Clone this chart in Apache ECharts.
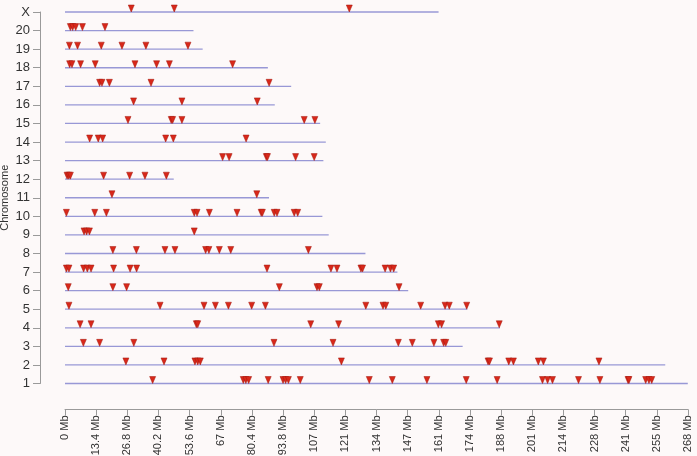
<!DOCTYPE html>
<html>
<head>
<meta charset="utf-8">
<script src="https://cdn.jsdelivr.net/npm/echarts@6/dist/echarts.min.js"></script>
<style>
html,body{margin:0;padding:0;background:#fdf9f9;}
#chart{width:697px;height:456px;}
</style>
</head>
<body>
<div id="chart"></div>
<script>
// Chromosome categories (bottom to top)
const chromosomes = ['1','2','3','4','5','6','7','8','9','10','11','12','13','14','15','16','17','18','19','20','X'];
// Chromosome lengths in Mb
const chromLengths = [267.91, 258.21, 171.06, 187.13, 173.10, 147.64, 143.00, 129.24, 113.44, 110.72, 87.76, 46.78, 111.15, 112.19, 109.76, 90.24, 97.30, 87.27, 59.22, 55.27, 160.70];
// X tick labels
const xTickLabels = ['0 Mb','13.4 Mb','26.8 Mb','40.2 Mb','53.6 Mb','67 Mb','80.4 Mb','93.8 Mb','107 Mb','121 Mb','134 Mb','147 Mb','161 Mb','174 Mb','188 Mb','201 Mb','214 Mb','228 Mb','241 Mb','255 Mb','268 Mb'];
// Marker positions (Mb) per chromosome
const chr1 = [37.7, 76.7, 77.8, 79.0, 87.4, 93.8, 94.9, 96.1, 101.2, 130.9, 140.8, 155.7, 172.6, 185.9, 205.4, 207.6, 209.7, 220.9, 230.1, 242.2, 242.6, 249.8, 251.2, 252.4];
const chr2 = [26.2, 42.6, 55.9, 57.1, 58.2, 118.9, 182.0, 182.6, 190.9, 192.9, 203.6, 205.8, 229.7];
const chr3 = [7.9, 14.9, 29.6, 89.9, 115.3, 143.4, 149.4, 158.7, 162.9, 163.8];
const chr4 = [6.5, 11.2, 56.5, 57.1, 105.7, 117.7, 160.6, 162.0, 186.8];
const chr5 = [1.7, 40.9, 59.8, 64.7, 70.3, 80.3, 86.2, 129.4, 136.8, 138.0, 153.0, 163.5, 165.3, 172.8];
const chr6 = [1.4, 20.6, 26.5, 92.2, 108.4, 109.4, 143.7];
const chr7 = [0.6, 1.7, 8.0, 9.6, 11.2, 20.9, 28.0, 30.8, 86.9, 114.4, 117.0, 127.3, 128.0, 137.7, 140.0, 141.4];
const chr8 = [20.6, 30.7, 43.0, 47.3, 60.5, 61.9, 66.4, 71.3, 104.7];
const chr9 = [8.2, 9.3, 10.5, 55.6];
const chr10 = [0.6, 12.8, 17.8, 55.6, 56.8, 62.1, 74.0, 84.4, 84.9, 90.0, 91.2, 98.6, 100.1];
const chr11 = [20.2, 82.5];
const chr12 = [0.9, 1.6, 2.3, 16.6, 27.8, 34.4, 43.6];
const chr13 = [67.8, 70.6, 86.6, 87.1, 99.2, 107.2];
const chr14 = [10.6, 14.3, 16.2, 43.3, 46.6, 77.9];
const chr15 = [27.1, 45.7, 46.3, 50.3, 102.9, 107.5];
const chr16 = [29.5, 50.3, 82.7];
const chr17 = [14.9, 15.9, 19.1, 37.0, 87.8];
const chr18 = [2.0, 3.0, 6.7, 13.0, 30.1, 39.4, 44.9, 72.1];
const chr19 = [1.9, 5.4, 15.6, 24.5, 34.8, 52.9];
const chr20 = [2.3, 3.3, 4.6, 7.5, 17.2];
const chrX = [28.5, 47.0, 122.3];

const markerSets = [chr1, chr2, chr3, chr4, chr5, chr6, chr7, chr8, chr9, chr10, chr11, chr12, chr13, chr14, chr15, chr16, chr17, chr18, chr19, chr20, chrX];
const markerData = [];
markerSets.forEach((arr, i) => arr.forEach(v => markerData.push([v, chromosomes[i]])));
const lineData = chromLengths.map((len, i) => [len, chromosomes[i]]);

const FONT = 'Liberation Sans, Arial, sans-serif';
const chart = echarts.init(document.getElementById('chart'));
chart.setOption({
  backgroundColor: '#fdf9f9',
  animation: false,
  grid: [
    { left: 65, right: 9, top: 12, bottom: 72.5, containLabel: false, outerBoundsMode: 'none' },
    { left: 40, width: 1, top: 12, bottom: 72.5, containLabel: false, outerBoundsMode: 'none' }
  ],
  xAxis: [
    {
      gridIndex: 0, type: 'value', min: 0, max: 268, interval: 13.4,
      offset: 26,
      axisLine: { show: true, lineStyle: { color: '#9a9a9a', width: 1 } },
      axisTick: { show: true, length: 6, lineStyle: { color: '#9a9a9a' } },
      splitLine: { show: false },
      axisLabel: {
        rotate: 90, fontSize: 11, color: '#333', margin: 6, fontFamily: FONT,
        formatter: (v) => xTickLabels[Math.round(v / 13.4)]
      }
    },
    { gridIndex: 1, type: 'value', show: false, min: 0, max: 1 }
  ],
  yAxis: [
    { gridIndex: 0, type: 'category', data: chromosomes, boundaryGap: false, show: false },
    {
      gridIndex: 1, type: 'category', data: chromosomes, boundaryGap: false,
      name: 'Chromosome', nameLocation: 'middle', nameGap: 30,
      nameTextStyle: { fontSize: 11, color: '#333', fontFamily: FONT },
      axisLine: { show: true, lineStyle: { color: '#9a9a9a', width: 1 } },
      axisTick: { show: true, length: 7, alignWithLabel: true, lineStyle: { color: '#9a9a9a' } },
      splitLine: { show: false },
      axisLabel: { fontSize: 13, color: '#333', margin: 10, fontFamily: FONT }
    }
  ],
  series: [
    {
      type: 'custom',
      xAxisIndex: 0, yAxisIndex: 0,
      data: lineData,
      renderItem: function (params, api) {
        const len = api.value(0);
        const cat = api.value(1);
        const p0 = api.coord([0, cat]);
        const p1 = api.coord([len, cat]);
        return {
          type: 'line',
          shape: { x1: p0[0], y1: p0[1], x2: p1[0], y2: p1[1] },
          style: { stroke: '#9898d6', lineWidth: 1.3 }
        };
      },
      encode: { x: 0, y: 1 },
      z: 1
    },
    {
      type: 'scatter',
      xAxisIndex: 0, yAxisIndex: 0,
      data: markerData,
      symbol: 'path://M0,0 L10,0 L5,12 Z',
      symbolSize: [6, 7],
      symbolOffset: [0, '-50%'],
      itemStyle: { color: '#d8281a', borderColor: '#a3170d', borderWidth: 0.5, opacity: 1 },
      z: 3
    }
  ]
});
</script>
</body>
</html>
